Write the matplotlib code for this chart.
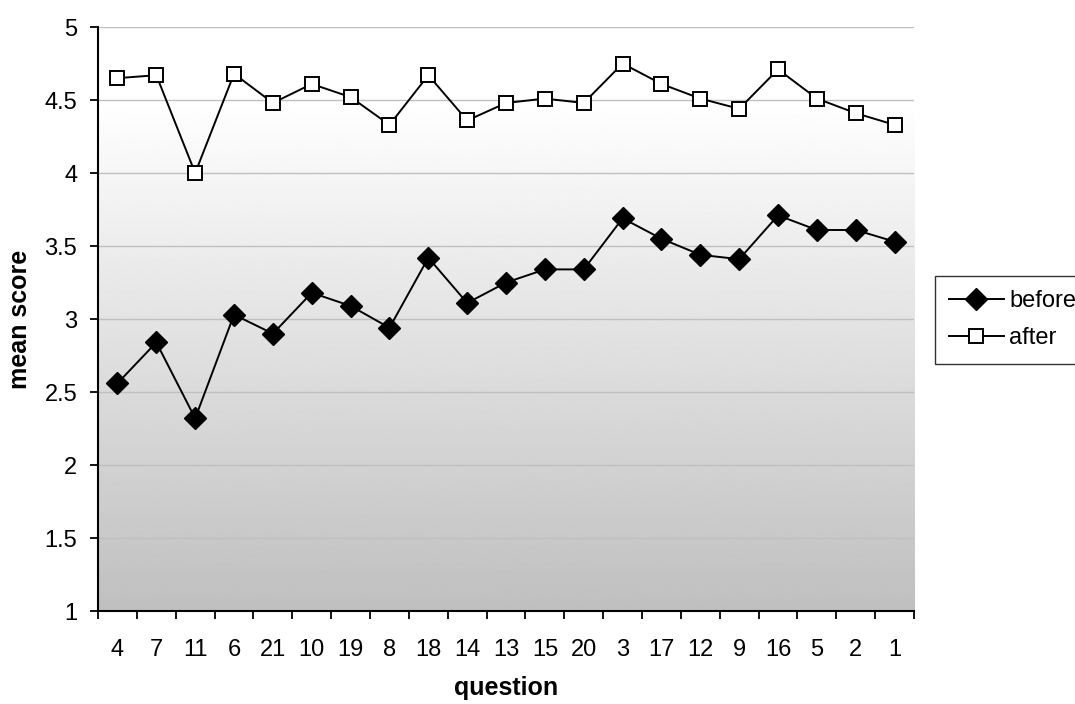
import matplotlib.pyplot as plt
import numpy as np

plt.rcParams['font.family'] = ['Liberation Sans', 'DejaVu Sans']

questions = ['4', '7', '11', '6', '21', '10', '19', '8', '18', '14', '13',
             '15', '20', '3', '17', '12', '9', '16', '5', '2', '1']
before = [2.56, 2.84, 2.32, 3.03, 2.90, 3.18, 3.09, 2.94, 3.42, 3.11, 3.25,
          3.34, 3.34, 3.69, 3.55, 3.44, 3.41, 3.71, 3.61, 3.61, 3.53]
after = [4.65, 4.67, 4.00, 4.68, 4.48, 4.61, 4.52, 4.33, 4.67, 4.36, 4.48,
         4.51, 4.48, 4.75, 4.61, 4.51, 4.44, 4.71, 4.51, 4.41, 4.33]

fig = plt.figure(figsize=(10.75, 7.04), dpi=100)
ax = fig.add_axes([0.0912, 0.132, 0.7591, 0.8296])

n = len(questions)
x = np.arange(n)
ax.set_xlim(-0.5, n - 0.5)
ax.set_ylim(1, 5)

# white in the upper band, then fading to grey towards the bottom
ys = np.linspace(5, 1, 400)
shade = np.clip(1.0 - 0.25 * (4.5 - ys) / 3.5, 0.75, 1.0).reshape(-1, 1)
ax.imshow(shade, cmap='gray', vmin=0, vmax=1, aspect='auto',
          extent=(-0.5, n - 0.5, 1, 5), origin='upper', zorder=0)

yticks = np.arange(1, 5.01, 0.5)
for y in yticks[1:]:
    ax.axhline(y, color='#c0c0c0', lw=1.0, zorder=1)

ax.plot(x, before, color='black', lw=1.4, marker='D', markersize=11.5,
        markerfacecolor='black', markeredgecolor='black', label='before', zorder=3)
ax.plot(x, after, color='black', lw=1.4, marker='s', markersize=10.5,
        markerfacecolor='white', markeredgecolor='black', markeredgewidth=1.4,
        label='after', zorder=3)

ax.set_yticks(yticks)
ax.set_yticklabels(['%g' % v for v in yticks])
ax.set_xticks(x)
ax.set_xticklabels(questions)
ax.set_xticks(np.arange(-0.5, n, 1.0), minor=True)
ax.tick_params(axis='x', which='major', length=0, pad=20, labelsize=17)
ax.tick_params(axis='x', which='minor', length=6, width=1.3, direction='out')
ax.tick_params(axis='y', length=6, width=1.3, direction='out', pad=9, labelsize=17)

for side in ('top', 'right'):
    ax.spines[side].set_visible(False)
for side in ('left', 'bottom'):
    ax.spines[side].set_linewidth(1.5)

ax.set_xlabel('question', fontsize=18, fontweight='bold', labelpad=11)
ax.set_ylabel('mean score', fontsize=18, fontweight='bold', labelpad=9)

leg = ax.legend(loc='upper left', bbox_to_anchor=(0.8698, 0.608), bbox_transform=fig.transFigure,
                frameon=True, fancybox=False, fontsize=17, handlelength=2.3,
                handletextpad=0.25, borderpad=0.6, labelspacing=0.65,
                borderaxespad=0)
leg.get_frame().set_edgecolor('black')
leg.get_frame().set_linewidth(1.0)

fig.savefig('out.png', dpi=100)
